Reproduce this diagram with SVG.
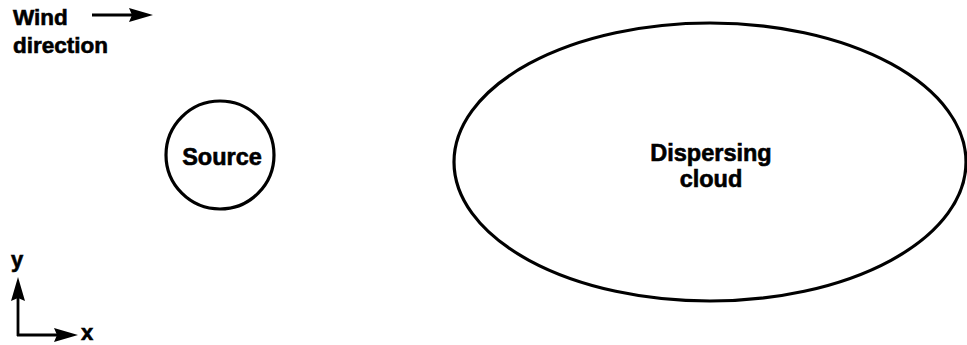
<svg xmlns="http://www.w3.org/2000/svg" width="967" height="345" viewBox="0 0 967 345">
<defs>
<style>
.t{font-family:"Liberation Sans",Arial,sans-serif;font-weight:bold;fill:#000;stroke:#000;stroke-width:0.6}
.s{fill:none;stroke:#000;stroke-width:3.2}
.l{fill:none;stroke:#000;stroke-width:2.8}
.h{fill:#000;stroke:none}
</style>
<path id="head" d="M0,0 L-24,-7 L-21,0 L-24,7 Z"/>
</defs>
<rect width="967" height="345" fill="#fff"/>
<g id="wind">
<text class="t" x="13" y="25" font-size="22.5">Wind</text>
<text class="t" x="13" y="53" font-size="22.5">direction</text>
</g>
<g id="source">
<circle class="s" cx="220" cy="155" r="54"/>
<text class="t" x="222" y="165" font-size="23.5" text-anchor="middle">Source</text>
</g>
<g id="cloud">
<ellipse class="s" cx="710" cy="162" rx="256" ry="139"/>
<text class="t" x="711" y="161" font-size="23.5" text-anchor="middle">Dispersing</text>
<text class="t" x="711" y="187" font-size="23.5" text-anchor="middle">cloud</text>
</g>
<g id="axes">
<text class="t" x="11" y="267" font-size="22">y</text>
<text class="t" x="81" y="340" font-size="22">x</text>
</g>
<g id="connectors">
<line class="l" x1="92" y1="15" x2="132" y2="15"/>
<use href="#head" class="h" transform="translate(153,15)"/>
<line class="l" x1="18" y1="336" x2="18" y2="298"/>
<use href="#head" class="h" transform="translate(18,277) rotate(-90)"/>
<line class="l" x1="17" y1="335" x2="57" y2="335"/>
<use href="#head" class="h" transform="translate(78,335)"/>
</g>
</svg>
